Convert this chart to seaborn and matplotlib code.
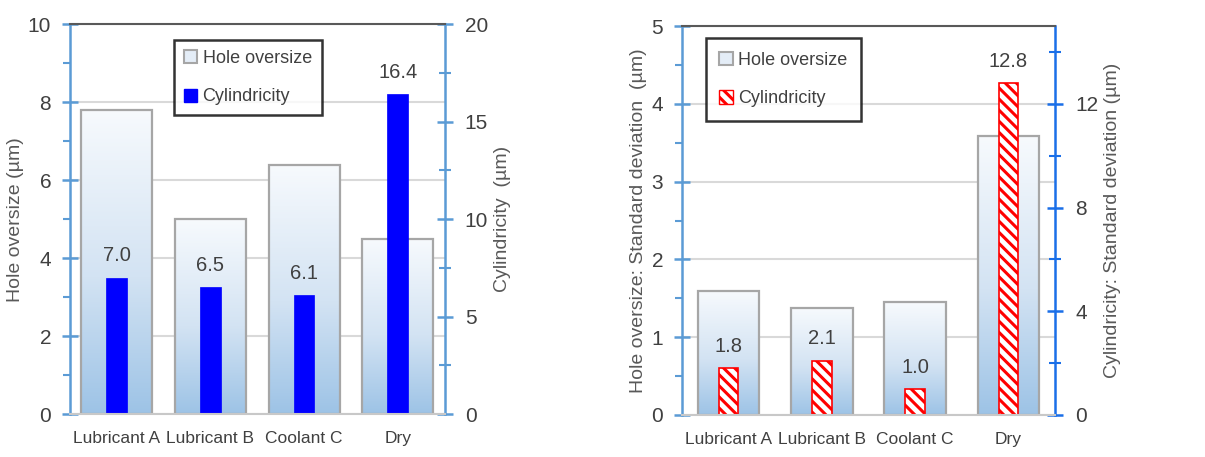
import numpy as np
import pandas as pd
import matplotlib
matplotlib.use('Agg')
import matplotlib.pyplot as plt
import seaborn as sns
from matplotlib.colors import LinearSegmentedColormap
from matplotlib.patches import Patch

# Data
categories = ['Lubricant A', 'Lubricant B', 'Coolant C', 'Dry']
hole_oversize = [7.8, 5.0, 6.4, 4.5]
cylindricity = [7.0, 6.5, 6.1, 16.4]
hole_sd = [1.6, 1.38, 1.45, 3.58]
cylindricity_sd = [1.8, 2.1, 1.0, 12.8]

df_mean = pd.DataFrame({'cond': categories, 'hole': hole_oversize, 'cyl': cylindricity})
df_sd = pd.DataFrame({'cond': categories, 'hole': hole_sd, 'cyl': cylindricity_sd})

sns.set_style("white")
plt.rcParams['font.family'] = ['Liberation Sans', 'DejaVu Sans']
plt.rcParams['hatch.linewidth'] = 2.2

text_color = '#404040'
label_color = '#595959'
grad = LinearSegmentedColormap.from_list(
    'bar_grad', [(0, '#9DC3E6'), (0.45, '#D3E3F3'), (1, '#F7FAFD')])

fig = plt.figure(figsize=(12.05, 4.57), dpi=100)
ax_l = fig.add_axes([0.058, 0.094, 0.311, 0.853])
ax_r = fig.add_axes([0.566, 0.092, 0.3095, 0.851])


def gradient_bars(ax):
    # replace flat fill of the wide bars with a vertical gradient
    for p in list(ax.patches):
        x0, w, h = p.get_x(), p.get_width(), p.get_height()
        p.set_facecolor('none')
        img = ax.imshow(np.linspace(0, 1, 256).reshape(-1, 1), cmap=grad,
                        origin='lower', extent=[x0, x0 + w, 0, h],
                        aspect='auto', zorder=p.get_zorder() - 0.1)
        img.set_clip_path(p)


def style_panel(ax, ax2, ylim, yticks, yminor, ylim2, yticks2, yminor2,
                ylabel, ylabel2, c_left, c_right):
    ax.set_xlim(-0.5, 3.5)
    ax.set_ylim(*ylim)
    ax.set_yticks(yticks)
    ax.set_yticks(yminor, minor=True)
    ax2.set_ylim(*ylim2)
    ax2.set_yticks(yticks2)
    ax2.set_yticks(yminor2, minor=True)
    ax.set_axisbelow(True)
    ax.grid(axis='y', color='#D9D9D9', linewidth=1.5)
    ax.set_xlabel('')
    ax2.set_xlabel('')
    ax.set_ylabel(ylabel, fontsize=14, color=label_color, labelpad=3)
    ax2.set_ylabel(ylabel2, fontsize=14, color=label_color, labelpad=4)
    for a in (ax, ax2):
        for s in a.spines.values():
            s.set_visible(False)
    ax2.spines['top'].set_visible(True)
    ax2.spines['top'].set_color('#595959')
    ax2.spines['top'].set_linewidth(1.5)
    ax2.spines['bottom'].set_visible(True)
    ax2.spines['bottom'].set_color('#C8C8C8')
    ax2.spines['bottom'].set_linewidth(1.5)
    ax2.spines['left'].set_visible(True)
    ax2.spines['left'].set_color(c_left)
    ax2.spines['left'].set_linewidth(1.8)
    ax2.spines['right'].set_visible(True)
    ax2.spines['right'].set_color(c_right)
    ax2.spines['right'].set_linewidth(1.8)
    ax.tick_params(axis='y', which='major', direction='inout', length=11,
                   width=1.8, color=c_left, labelsize=15, labelcolor=text_color, pad=8)
    ax.tick_params(axis='y', which='minor', direction='out', length=5,
                   width=1.5, color=c_left)
    ax2.tick_params(axis='y', which='major', direction='inout', length=11,
                    width=1.8, color=c_right, labelsize=15, labelcolor=text_color, pad=9)
    ax2.tick_params(axis='y', which='minor', direction='inout', length=8,
                    width=1.5, color=c_right)
    ax.tick_params(axis='x', length=0, labelsize=12.5, labelcolor=text_color, pad=12)
    ax2.tick_params(axis='x', length=0, labelbottom=False)


def boxed_legend(ax, handles, anchor, pad):
    leg = ax.legend(handles, ['Hole oversize', 'Cylindricity'],
                    loc='upper left', bbox_to_anchor=anchor,
                    fontsize=13, frameon=True, fancybox=False,
                    handlelength=0.75, handleheight=0.75, handletextpad=0.3,
                    labelspacing=1.2, borderpad=pad, borderaxespad=0,
                    labelcolor=text_color)
    leg.get_frame().set_edgecolor('black')
    leg.get_frame().set_linewidth(1.8)
    return leg


# ---- left panel: mean values
sns.barplot(data=df_mean, x='cond', y='hole', ax=ax_l, width=0.76,
            color='#DDE8F4', edgecolor='#A6A6A6', linewidth=1.6, saturation=1)
gradient_bars(ax_l)
ax_l2 = ax_l.twinx()
sns.barplot(data=df_mean, x='cond', y='cyl', ax=ax_l2, width=0.22,
            color='#0000FF', edgecolor='#0000FF', linewidth=0.5, saturation=1)
ax_l2.bar_label(ax_l2.containers[0], fmt='%.1f', padding=9, fontsize=14.5,
                color=text_color)
style_panel(ax_l, ax_l2, (0, 10), np.arange(0, 11, 2), np.arange(1, 10, 2),
            (0, 20), np.arange(0, 21, 5), np.arange(2.5, 20, 5),
            'Hole oversize (µm)', 'Cylindricity  (µm)', '#5B9BD5', '#5B9BD5')

handles_l = [Patch(facecolor='#E4EDF7', edgecolor='#A6A6A6', linewidth=1.5),
             Patch(facecolor='#0000FF', edgecolor='#0000FF')]
boxed_legend(ax_l2, handles_l, (0.277, 0.96), 0.55)

# ---- right panel: standard deviations
sns.barplot(data=df_sd, x='cond', y='hole', ax=ax_r, width=0.66,
            color='#DDE8F4', edgecolor='#A6A6A6', linewidth=1.6, saturation=1)
gradient_bars(ax_r)
ax_r2 = ax_r.twinx()
sns.barplot(data=df_sd, x='cond', y='cyl', ax=ax_r2, width=0.21,
            color='white', edgecolor='#FF0000', linewidth=1.2, saturation=1,
            hatch='\\\\\\')
ax_r2.bar_label(ax_r2.containers[0], fmt='%.1f', padding=9, fontsize=14.5,
                color=text_color)
style_panel(ax_r, ax_r2, (0, 5), np.arange(0, 6, 1), np.arange(0.5, 5, 1),
            (0, 15), np.arange(0, 13, 4), np.arange(2, 15, 4),
            'Hole oversize: Standard deviation  (µm)',
            'Cylindricity: Standard deviation (µm)', '#5B9BD5', '#1A6FE8')

handles_r = [Patch(facecolor='#E4EDF7', edgecolor='#A6A6A6', linewidth=1.5),
             Patch(facecolor='white', edgecolor='#FF0000', hatch='\\\\\\')]
boxed_legend(ax_r2, handles_r, (0.064, 0.969), 0.75)

fig.savefig('out.png', dpi=100)
